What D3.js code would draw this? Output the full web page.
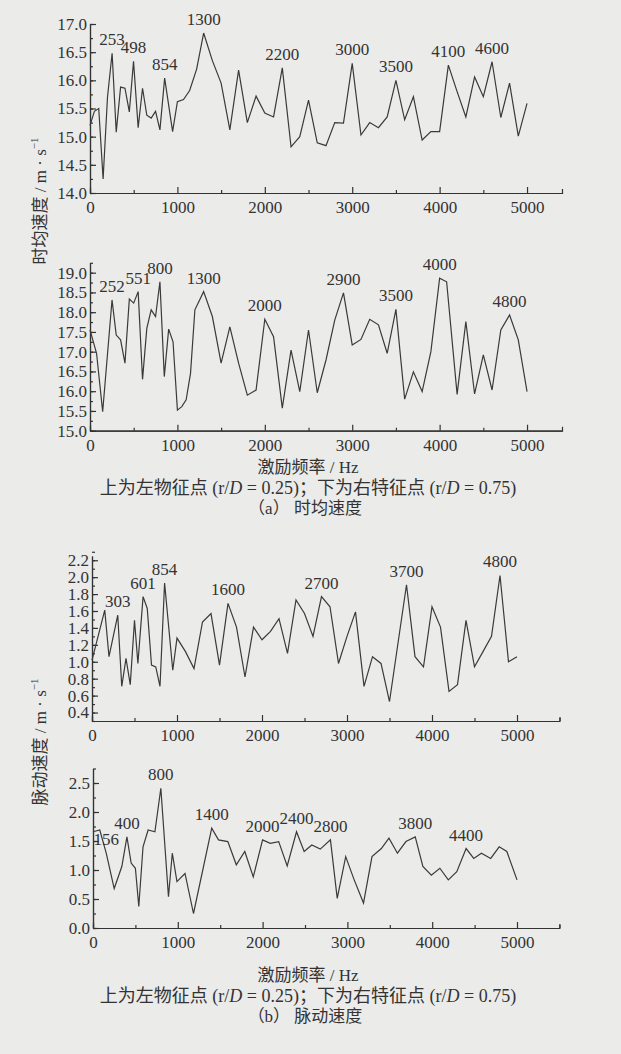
<!DOCTYPE html>
<html>
<head>
<meta charset="utf-8">
<script src="https://cdn.jsdelivr.net/npm/d3@7"></script>
<style>
body { margin: 0; background: #ebebea; }
svg { display: block; }
</style>
</head>
<body>
<svg id="chart" width="621" height="1054"></svg>
<script>
// (a) time-averaged velocity, upper = left point (r/D = 0.25)
var freqA1 = [0, 50, 100, 150, 200, 253, 300, 350, 400, 450, 498, 551, 601, 650, 700, 750, 800, 854, 945,
  1000, 1070, 1140, 1220, 1300, 1400, 1500, 1600, 1700, 1800, 1900, 2000, 2100, 2200, 2300, 2400, 2500,
  2600, 2700, 2800, 2900, 3000, 3100, 3200, 3300, 3400, 3500, 3600, 3700, 3800, 3900, 4000, 4100, 4200,
  4300, 4400, 4500, 4600, 4700, 4800, 4900, 5000];
var velA1 = [15.2, 15.45, 15.5, 14.25, 15.7, 16.48, 15.08, 15.88, 15.86, 15.44, 16.34, 15.16, 15.86, 15.38,
  15.33, 15.45, 15.12, 16.04, 15.09, 15.62, 15.66, 15.82, 16.2, 16.84, 16.35, 15.95, 15.12, 16.18, 15.25,
  15.72, 15.42, 15.35, 16.22, 14.82, 15.0, 15.65, 14.89, 14.84, 15.25, 15.24, 16.3, 15.03, 15.25, 15.16,
  15.35, 16.0, 15.3, 15.71, 14.94, 15.09, 15.09, 16.27, 15.8, 15.35, 16.06, 15.71, 16.33, 15.34, 15.95,
  15.01, 15.59];
var peaksA1 = [253, 498, 854, 1300, 2200, 3000, 3500, 4100, 4600];

// (a) lower = right point (r/D = 0.75)
var freqA2 = [0, 75, 145, 252, 300, 350, 400, 450, 500, 551, 601, 650, 700, 750, 800, 850, 900, 950, 1000,
  1050, 1100, 1150, 1200, 1300, 1400, 1500, 1600, 1700, 1800, 1900, 2000, 2100, 2200, 2300, 2400, 2500,
  2600, 2700, 2800, 2900, 3000, 3100, 3200, 3300, 3400, 3500, 3600, 3700, 3800, 3900, 4000, 4080, 4200,
  4300, 4400, 4500, 4600, 4700, 4800, 4900, 5000];
var velA2 = [17.55, 16.96, 15.48, 18.31, 17.42, 17.3, 16.71, 18.33, 18.23, 18.52, 16.3, 17.59, 18.06, 17.89,
  18.77, 16.37, 17.57, 17.25, 15.52, 15.61, 15.78, 16.45, 18.06, 18.52, 17.89, 16.71, 17.63, 16.71, 15.9,
  16.03, 17.82, 17.38, 15.57, 17.04, 15.99, 17.55, 15.96, 16.79, 17.8, 18.49, 17.17, 17.31, 17.82, 17.68,
  16.96, 18.07, 15.8, 16.49, 15.99, 17.0, 18.86, 18.77, 15.92, 17.76, 15.93, 16.92, 16.03, 17.55, 17.93,
  17.3, 15.99];
var peaksA2 = [252, 551, 800, 1300, 2000, 2900, 3500, 4000, 4800];

// (b) fluctuating velocity, upper = left point
var freqB1 = [0, 150, 200, 303, 350, 400, 450, 500, 540, 601, 650, 700, 750, 800, 854, 950, 1000, 1100, 1200,
  1300, 1400, 1500, 1600, 1700, 1800, 1900, 2000, 2100, 2200, 2300, 2400, 2500, 2600, 2700, 2800, 2900,
  3000, 3100, 3200, 3300, 3400, 3500, 3700, 3800, 3900, 4000, 4100, 4200, 4300, 4400, 4500, 4600, 4700,
  4800, 4900, 5000];
var velB1 = [1.02, 1.61, 1.06, 1.55, 0.71, 1.04, 0.73, 1.49, 0.98, 1.77, 1.63, 0.96, 0.94, 0.71, 1.93, 0.9,
  1.28, 1.12, 0.92, 1.47, 1.57, 0.96, 1.69, 1.41, 0.82, 1.41, 1.26, 1.36, 1.51, 1.1, 1.73, 1.57, 1.3, 1.77,
  1.65, 0.98, 1.3, 1.59, 0.71, 1.06, 0.98, 0.53, 1.91, 1.06, 0.94, 1.65, 1.41, 0.65, 0.73, 1.49, 0.94,
  1.12, 1.3, 2.02, 1.0, 1.06];
var peaksB1 = [303, 601, 854, 1600, 2700, 3700, 4800];

// (b) lower = right point
var freqB2 = [0, 80, 156, 250, 340, 400, 450, 500, 540, 590, 650, 730, 800, 890, 935, 990, 1085, 1185, 1400,
  1480, 1590, 1690, 1790, 1890, 2000, 2090, 2190, 2290, 2400, 2490, 2580, 2680, 2800, 2880, 2980, 3080,
  3190, 3290, 3400, 3490, 3590, 3690, 3800, 3890, 3990, 4090, 4190, 4290, 4400, 4490, 4580, 4690, 4790,
  4880, 5000];
var velB2 = [1.66, 1.69, 1.29, 0.68, 1.06, 1.57, 1.12, 1.03, 0.37, 1.4, 1.69, 1.66, 2.41, 0.54, 1.29, 0.8,
  0.94, 0.25, 1.72, 1.52, 1.49, 1.09, 1.32, 0.88, 1.52, 1.46, 1.49, 1.07, 1.66, 1.32, 1.43, 1.36, 1.52,
  0.51, 1.23, 0.83, 0.43, 1.23, 1.37, 1.55, 1.29, 1.49, 1.57, 1.06, 0.91, 1.03, 0.83, 0.97, 1.37, 1.2,
  1.29, 1.2, 1.4, 1.32, 0.83];
var peaksB2 = [156, 400, 800, 1400, 2000, 2400, 2800, 3800, 4400];

var xTicks = [0, 1000, 2000, 3000, 4000, 5000];

var ink = "#333";
var serif = "'Liberation Serif', 'Times New Roman', serif";
var cjk = "'Liberation Serif', 'Noto Sans CJK SC', serif";

var svg = d3.select("#chart");

var panels = [
  { freq: freqA1, vals: velA1, peaks: peaksA1, xDom: [0, 5400], xRange: [90, 562],
    yDom: [14, 17], yRange: [193, 24], yMajor: 0.5, yMinor: 0.25 },
  { freq: freqA2, vals: velA2, peaks: peaksA2, xDom: [0, 5400], xRange: [90, 562],
    yDom: [15, 19.25], yRange: [430.7, 262.8], yMajor: 0.5, yMinor: 0.25 },
  { freq: freqB1, vals: velB1, peaks: peaksB1, xDom: [0, 5500], xRange: [92, 559.5],
    yDom: [0.3, 2.25], yRange: [721, 556], yMajor: 0.2, yMinor: 0.1, yFirst: 0.4 },
  { freq: freqB2, vals: velB2, peaks: peaksB2, xDom: [0, 5500], xRange: [93, 559.4],
    yDom: [0, 2.75], yRange: [928, 768.5], yMajor: 0.5, yMinor: 0.25 }
];

function styleAxis(sel) {
  sel.attr("font-family", serif).attr("font-size", 17);
  sel.selectAll("path, line").attr("stroke", ink).attr("stroke-width", 1.2);
  sel.selectAll("text").attr("fill", ink);
}

function drawPanel(p) {
  var x = d3.scaleLinear().domain(p.xDom).range(p.xRange);
  var y = d3.scaleLinear().domain(p.yDom).range(p.yRange);
  var g = svg.append("g");
  var base = p.yRange[0];

  var first = p.yFirst !== undefined ? p.yFirst : p.yDom[0];
  var yMaj = d3.range(Math.round((p.yDom[1] - first) / p.yMajor) + 1).map(function(i) {
    return +(first + i * p.yMajor).toFixed(2);
  }).filter(function(v) { return v <= p.yDom[1] + 1e-6; });
  var yMin = d3.range(Math.round((p.yDom[1] - p.yDom[0]) / p.yMinor) + 1).map(function(i) {
    return +(p.yDom[0] + i * p.yMinor).toFixed(2);
  });
  var xMin = d3.range(500, p.xDom[1] + 1, 1000);

  // minor ticks first, then the labelled axes
  g.append("g").attr("transform", "translate(0," + base + ")")
    .call(d3.axisBottom(x).tickValues(xMin).tickFormat("").tickSizeInner(-3).tickSizeOuter(-4))
    .call(styleAxis);
  g.append("g").attr("transform", "translate(0," + base + ")")
    .call(d3.axisBottom(x).tickValues(xTicks).tickFormat(d3.format("d"))
      .tickSizeInner(-6).tickSizeOuter(0).tickPadding(8))
    .call(styleAxis);

  g.append("g").attr("transform", "translate(" + p.xRange[0] + ",0)")
    .call(d3.axisLeft(y).tickValues(yMin).tickFormat("").tickSizeInner(-3).tickSizeOuter(0))
    .call(styleAxis);
  g.append("g").attr("transform", "translate(" + p.xRange[0] + ",0)")
    .call(d3.axisLeft(y).tickValues(yMaj).tickFormat(d3.format(".1f"))
      .tickSizeInner(-6).tickSizeOuter(0).tickPadding(3))
    .call(styleAxis);

  var pts = p.freq.map(function(f, i) { return [f, p.vals[i]]; });
  var line = d3.line().x(function(d) { return x(d[0]); }).y(function(d) { return y(d[1]); });
  g.append("path").datum(pts)
    .attr("d", line)
    .attr("fill", "none")
    .attr("stroke", "#3a3a3a")
    .attr("stroke-width", 1.2)
    .attr("stroke-linejoin", "miter");

  g.selectAll(".peak").data(p.peaks).enter().append("text")
    .attr("class", "peak")
    .attr("x", function(f) { return x(f); })
    .attr("y", function(f) { return y(p.vals[p.freq.indexOf(f)]) - 8; })
    .attr("text-anchor", "middle")
    .attr("font-family", serif)
    .attr("font-size", 17)
    .attr("fill", ink)
    .text(function(f) { return f; });
}

panels.forEach(drawPanel);

// y axis titles
function yTitle(label, cy) {
  var t = svg.append("text")
    .attr("transform", "translate(40," + cy + ") rotate(-90)")
    .attr("text-anchor", "middle")
    .attr("dominant-baseline", "central")
    .attr("font-family", cjk)
    .attr("font-size", 17)
    .attr("fill", ink);
  t.append("tspan").text(label + " / m · s");
  t.append("tspan").attr("dy", -6).attr("font-size", 11).text("−1");
}
yTitle("时均速度", 201);
yTitle("脉动速度", 742);

// bottom captions
function captions(tag, name, y0) {
  svg.append("text").attr("x", 308).attr("y", y0)
    .attr("text-anchor", "middle").attr("font-family", cjk).attr("font-size", 17).attr("fill", ink)
    .text("激励频率 / Hz");
  var c = svg.append("text").attr("x", 308).attr("y", y0 + 21)
    .attr("text-anchor", "middle").attr("font-family", cjk).attr("font-size", 18).attr("fill", ink);
  c.append("tspan").text("上为左物征点 (r/");
  c.append("tspan").attr("font-style", "italic").text("D");
  c.append("tspan").text(" = 0.25)；下为右特征点 (r/");
  c.append("tspan").attr("font-style", "italic").text("D");
  c.append("tspan").text(" = 0.75)");
  svg.append("text").attr("x", 305).attr("y", y0 + 41)
    .attr("text-anchor", "middle").attr("font-family", cjk).attr("font-size", 17).attr("fill", ink)
    .text("（" + tag + "）  " + name);
}
captions("a", "时均速度", 473);
captions("b", "脉动速度", 981);
</script>
</body>
</html>
